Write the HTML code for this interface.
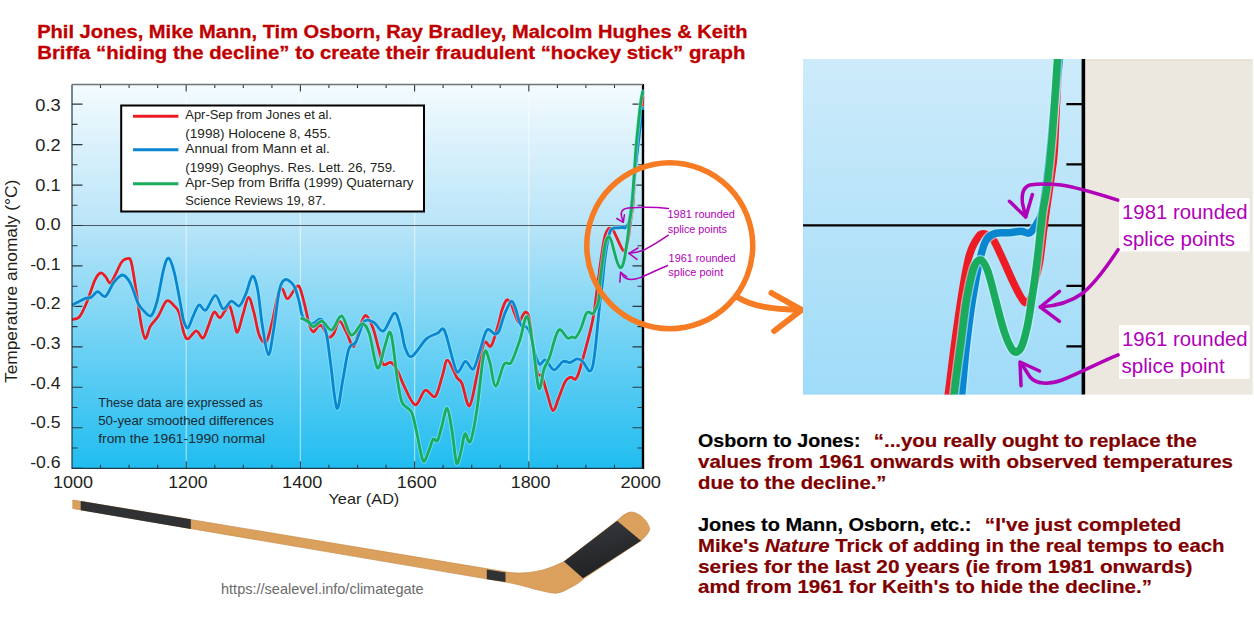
<!DOCTYPE html>
<html><head><meta charset="utf-8"><title>Hide the decline</title>
<style>html,body{margin:0;padding:0;background:#fff;width:1254px;height:627px;overflow:hidden}svg{display:block}</style>
</head><body>
<svg width="1254" height="627" viewBox="0 0 1254 627">
<text x="37.2" y="38.4" font-family="Liberation Sans" font-weight="bold" font-size="17.6" fill="#c00000" stroke="#c00000" stroke-width="0.3" textLength="710.3" lengthAdjust="spacingAndGlyphs">Phil Jones, Mike Mann, Tim Osborn, Ray Bradley, Malcolm Hughes &amp; Keith</text>
<text x="37.2" y="59" font-family="Liberation Sans" font-weight="bold" font-size="17.6" fill="#c00000" stroke="#c00000" stroke-width="0.3" textLength="708.3" lengthAdjust="spacingAndGlyphs">Briffa “hiding the decline” to create their fraudulent “hockey stick” graph</text>
<defs><linearGradient id="mg" x1="0" y1="0" x2="0" y2="1"><stop offset="0" stop-color="#f4fbfe"/><stop offset="0.37" stop-color="#b8e4f8"/><stop offset="1" stop-color="#20bdf0"/></linearGradient><linearGradient id="ig" x1="0" y1="0" x2="0" y2="1"><stop offset="0" stop-color="#cdebfa"/><stop offset="1" stop-color="#9fdbf8"/></linearGradient><linearGradient id="tg" x1="0" y1="0" x2="0.35" y2="1"><stop offset="0" stop-color="#3a3c3f"/><stop offset="0.5" stop-color="#2c2e31"/><stop offset="1" stop-color="#1f2123"/></linearGradient><clipPath id="pc"><rect x="72.0" y="84.5" width="575.0" height="383.8"/></clipPath><clipPath id="ic"><rect x="803" y="59" width="280" height="335.6"/></clipPath></defs>
<rect x="72.0" y="84.5" width="571.0" height="383.8" fill="url(#mg)"/>
<line x1="186.2" y1="84.5" x2="186.2" y2="468.3" stroke="#ffffff" stroke-opacity="0.5" stroke-width="1.3"/>
<line x1="300.4" y1="84.5" x2="300.4" y2="468.3" stroke="#ffffff" stroke-opacity="0.5" stroke-width="1.3"/>
<line x1="414.6" y1="84.5" x2="414.6" y2="468.3" stroke="#ffffff" stroke-opacity="0.5" stroke-width="1.3"/>
<line x1="528.8" y1="84.5" x2="528.8" y2="468.3" stroke="#ffffff" stroke-opacity="0.5" stroke-width="1.3"/>
<line x1="72.0" y1="225.5" x2="643.0" y2="225.5" stroke="#4a5a60" stroke-width="1.1"/>
<path d="M72.0,468.2h10.5 M643.0,468.2h-10.5 M72.0,448.0h5.5 M643.0,448.0h-5.5 M72.0,427.8h10.5 M643.0,427.8h-10.5 M72.0,407.5h5.5 M643.0,407.5h-5.5 M72.0,387.3h10.5 M643.0,387.3h-10.5 M72.0,367.1h5.5 M643.0,367.1h-5.5 M72.0,346.9h10.5 M643.0,346.9h-10.5 M72.0,326.6h5.5 M643.0,326.6h-5.5 M72.0,306.4h10.5 M643.0,306.4h-10.5 M72.0,286.2h5.5 M643.0,286.2h-5.5 M72.0,265.9h10.5 M643.0,265.9h-10.5 M72.0,245.7h5.5 M643.0,245.7h-5.5 M72.0,225.5h10.5 M643.0,225.5h-10.5 M72.0,205.3h5.5 M643.0,205.3h-5.5 M72.0,185.1h10.5 M643.0,185.1h-10.5 M72.0,164.8h5.5 M643.0,164.8h-5.5 M72.0,144.6h10.5 M643.0,144.6h-10.5 M72.0,124.4h5.5 M643.0,124.4h-5.5 M72.0,104.1h10.5 M643.0,104.1h-10.5 M100.5,468.3v-3.5 M100.5,84.5v3.5 M129.1,468.3v-3.5 M129.1,84.5v3.5 M157.7,468.3v-3.5 M157.7,84.5v3.5 M186.2,468.3v-7 M186.2,84.5v7 M214.8,468.3v-3.5 M214.8,84.5v3.5 M243.3,468.3v-3.5 M243.3,84.5v3.5 M271.9,468.3v-3.5 M271.9,84.5v3.5 M300.4,468.3v-7 M300.4,84.5v7 M328.9,468.3v-3.5 M328.9,84.5v3.5 M357.5,468.3v-3.5 M357.5,84.5v3.5 M386.1,468.3v-3.5 M386.1,84.5v3.5 M414.6,468.3v-7 M414.6,84.5v7 M443.1,468.3v-3.5 M443.1,84.5v3.5 M471.7,468.3v-3.5 M471.7,84.5v3.5 M500.2,468.3v-3.5 M500.2,84.5v3.5 M528.8,468.3v-7 M528.8,84.5v7 M557.4,468.3v-3.5 M557.4,84.5v3.5 M585.9,468.3v-3.5 M585.9,84.5v3.5 M614.5,468.3v-3.5 M614.5,84.5v3.5" stroke="#2b3a40" stroke-width="1.1" fill="none"/>
<rect x="121.2" y="105.5" width="302.8" height="106" fill="#ffffff" stroke="#000" stroke-width="2"/>
<line x1="133" y1="116.3" x2="178.4" y2="116.3" stroke="#ed1c24" stroke-width="3"/>
<line x1="133" y1="149.8" x2="178.4" y2="149.8" stroke="#0a85d0" stroke-width="3"/>
<line x1="133" y1="183.8" x2="178.4" y2="183.8" stroke="#1aab5c" stroke-width="3"/>
<text x="185.3" y="119.4" font-family="Liberation Sans" font-size="13" fill="#231f20" lengthAdjust="spacingAndGlyphs" textLength="146.7">Apr-Sep from Jones et al.</text>
<text x="185.3" y="138.0" font-family="Liberation Sans" font-size="13" fill="#231f20" lengthAdjust="spacingAndGlyphs" textLength="145.4">(1998) Holocene 8, 455.</text>
<text x="185.3" y="153.2" font-family="Liberation Sans" font-size="13" fill="#231f20" lengthAdjust="spacingAndGlyphs" textLength="144.6">Annual from Mann et al.</text>
<text x="185.3" y="171.7" font-family="Liberation Sans" font-size="13" fill="#231f20" lengthAdjust="spacingAndGlyphs" textLength="210.4">(1999) Geophys. Res. Lett. 26, 759.</text>
<text x="185.3" y="186.6" font-family="Liberation Sans" font-size="13" fill="#231f20" lengthAdjust="spacingAndGlyphs" textLength="228.3">Apr-Sep from Briffa (1999) Quaternary</text>
<text x="185.3" y="205.0" font-family="Liberation Sans" font-size="13" fill="#231f20" lengthAdjust="spacingAndGlyphs" textLength="140.3">Science Reviews 19, 87.</text>
<text x="98.2" y="407.2" font-family="Liberation Sans" font-size="13" fill="#1b2a33" lengthAdjust="spacingAndGlyphs" textLength="164.3">These data are expressed as</text>
<text x="98.2" y="425.3" font-family="Liberation Sans" font-size="13" fill="#1b2a33" lengthAdjust="spacingAndGlyphs" textLength="175.7">50-year smoothed differences</text>
<text x="98.2" y="443.2" font-family="Liberation Sans" font-size="13" fill="#1b2a33" lengthAdjust="spacingAndGlyphs" textLength="166.9">from the 1961-1990 normal</text>
<path d="M643.0,83.9 V468.90000000000003" stroke="#000" stroke-width="2.2" fill="none"/>
<g clip-path="url(#pc)" fill="none" stroke-linecap="round" stroke-linejoin="round" stroke-width="2.8"><path d="M72.0,319.5 C73.3,319.0 77.1,319.7 79.6,316.6 C82.1,313.6 84.7,307.3 87.2,301.2 C89.8,295.1 92.7,284.9 94.9,280.2 C97.1,275.5 98.8,273.5 100.6,272.9 C102.3,272.3 103.8,274.7 105.4,276.4 C107.0,278.1 108.5,283.6 110.2,283.1 C112.0,282.6 114.0,277.0 115.9,273.5 C117.8,270.0 119.8,264.5 121.7,262.0 C123.6,259.5 125.8,258.6 127.4,258.6 C129.0,258.6 129.8,256.8 131.2,262.0 C132.6,267.2 134.4,279.8 136.0,289.8 C137.6,299.9 139.3,314.2 140.8,322.3 C142.3,330.4 143.6,338.0 145.2,338.6 C146.8,339.2 148.3,329.8 150.4,326.1 C152.5,322.4 155.3,320.8 158.0,316.6 C160.7,312.4 164.0,302.7 166.7,300.9 C169.4,299.1 172.2,304.0 174.3,306.0 C176.4,308.0 177.5,308.2 179.1,312.7 C180.7,317.1 182.3,328.3 183.8,332.7 C185.3,337.1 185.9,339.2 188.0,338.9 C190.1,338.6 193.8,330.9 196.3,330.8 C198.8,330.7 200.9,339.1 203.0,338.1 C205.1,337.2 206.8,329.4 208.7,325.1 C210.5,320.8 212.2,313.3 214.1,312.1 C215.9,310.9 218.1,317.9 219.8,317.8 C221.5,317.7 222.8,313.7 224.4,311.7 C226.0,309.7 227.9,304.6 229.4,305.9 C230.9,307.2 232.3,314.9 233.6,319.3 C234.9,323.7 235.8,333.2 237.4,332.3 C239.0,331.4 241.3,319.4 243.2,313.6 C245.0,307.8 246.8,297.6 248.5,297.3 C250.2,297.0 251.9,305.3 253.7,311.7 C255.5,318.1 257.3,330.6 259.4,335.6 C261.5,340.6 264.0,344.0 266.1,341.9 C268.2,339.8 269.8,331.4 271.9,323.2 C274.0,315.0 276.8,298.2 278.6,292.5 C280.4,286.8 281.1,288.2 282.6,289.2 C284.1,290.2 285.4,299.1 287.7,298.7 C290.0,298.3 294.5,288.2 296.6,286.6 C298.7,285.0 298.9,285.6 300.4,289.2 C301.9,292.8 304.0,302.4 305.5,308.3 C307.0,314.2 308.1,321.0 309.4,324.9 C310.7,328.8 311.7,331.7 313.2,331.9 C314.7,332.1 316.8,327.1 318.3,326.2 C319.8,325.2 320.4,324.4 322.1,326.2 C323.8,328.0 326.6,335.7 328.5,337.0 C330.4,338.3 331.8,336.5 333.6,333.9 C335.4,331.2 337.3,321.4 339.4,321.1 C341.5,320.8 344.0,327.9 346.4,332.2 C348.8,336.4 351.4,347.4 353.6,346.6 C355.8,345.8 357.6,332.6 359.6,327.4 C361.6,322.2 363.4,315.5 365.6,315.5 C367.8,315.5 370.6,321.8 372.8,327.4 C375.0,333.0 376.9,342.8 378.7,349.0 C380.5,355.2 381.5,362.3 383.5,364.5 C385.5,366.7 388.3,361.4 390.6,362.4 C392.9,363.3 395.1,366.3 397.3,370.2 C399.5,374.1 401.0,380.0 404.0,385.8 C407.0,391.6 411.6,404.1 415.1,404.8 C418.6,405.6 421.9,391.7 425.2,390.3 C428.5,388.9 432.3,398.9 435.2,396.5 C438.1,394.1 440.2,382.2 442.3,376.1 C444.4,370.0 445.1,360.0 447.5,360.1 C449.9,360.2 454.1,373.0 456.5,376.9 C458.9,380.8 459.9,378.8 462.0,383.6 C464.1,388.4 466.9,407.1 469.4,405.9 C471.9,404.6 474.4,386.6 476.8,376.1 C479.2,365.6 481.6,348.1 484.0,343.1 C486.4,338.1 488.7,349.1 491.1,346.0 C493.5,342.9 496.5,330.5 498.3,324.5 C500.1,318.5 500.6,314.1 502.0,310.0 C503.4,305.9 505.2,301.1 506.7,300.0 C508.1,298.9 509.5,301.7 510.7,303.6 C511.9,305.5 512.8,308.6 513.9,311.5 C515.0,314.4 516.6,318.9 517.5,320.7 C518.4,322.4 518.6,322.9 519.5,322.0 C520.4,321.1 521.6,317.2 522.7,315.5 C523.8,313.8 524.8,311.7 525.9,312.0 C527.0,312.3 528.0,312.4 529.1,317.5 C530.2,322.6 531.4,333.3 532.8,342.5 C534.2,351.7 535.8,367.1 537.3,372.7 C538.8,378.3 540.0,372.5 541.7,376.0 C543.4,379.5 545.4,388.1 547.3,393.9 C549.2,399.7 551.0,409.9 552.9,410.6 C554.8,411.4 556.5,403.2 558.5,398.4 C560.5,393.6 563.2,385.2 565.2,381.6 C567.2,378.1 569.1,377.5 570.8,377.1 C572.5,376.7 573.9,380.0 575.2,379.4 C576.5,378.8 577.1,377.7 578.6,373.3 C580.1,368.9 582.5,360.1 584.4,353.2 C586.3,346.2 588.5,338.1 590.1,331.6 C591.7,325.1 592.4,322.4 593.7,314.4 C595.0,306.4 596.7,291.9 597.8,283.8 C598.9,275.7 599.3,271.6 600.1,265.7 C600.9,259.8 601.8,253.6 602.6,248.5 C603.4,243.4 604.2,238.7 605.1,235.4 C606.0,232.2 607.3,230.2 608.2,229.0 C609.1,227.8 609.9,228.1 610.7,228.3 C611.5,228.5 612.3,229.0 613.2,230.3 C614.1,231.7 615.1,234.1 616.2,236.4 C617.3,238.8 618.7,242.1 619.8,244.4 C620.9,246.7 622.0,248.9 622.8,250.0 C623.5,251.1 623.8,251.2 624.3,251.0 C624.8,250.8 625.3,250.3 625.8,249.0 C626.3,247.7 626.7,245.1 627.2,243.0 C627.7,240.9 628.2,239.9 628.7,236.4 C629.2,232.9 629.8,226.9 630.5,222.0 C631.2,217.1 632.2,210.7 632.7,206.9 C633.2,203.1 633.1,205.2 633.5,199.0 C633.9,192.8 634.1,181.5 635.1,170.0 C636.1,158.5 638.5,142.1 639.8,130.0 C641.1,117.9 642.4,102.7 642.9,97.2" stroke="#9ff0ff" stroke-opacity="0.55" stroke-width="4.6"/><path d="M72.0,319.5 C73.3,319.0 77.1,319.7 79.6,316.6 C82.1,313.6 84.7,307.3 87.2,301.2 C89.8,295.1 92.7,284.9 94.9,280.2 C97.1,275.5 98.8,273.5 100.6,272.9 C102.3,272.3 103.8,274.7 105.4,276.4 C107.0,278.1 108.5,283.6 110.2,283.1 C112.0,282.6 114.0,277.0 115.9,273.5 C117.8,270.0 119.8,264.5 121.7,262.0 C123.6,259.5 125.8,258.6 127.4,258.6 C129.0,258.6 129.8,256.8 131.2,262.0 C132.6,267.2 134.4,279.8 136.0,289.8 C137.6,299.9 139.3,314.2 140.8,322.3 C142.3,330.4 143.6,338.0 145.2,338.6 C146.8,339.2 148.3,329.8 150.4,326.1 C152.5,322.4 155.3,320.8 158.0,316.6 C160.7,312.4 164.0,302.7 166.7,300.9 C169.4,299.1 172.2,304.0 174.3,306.0 C176.4,308.0 177.5,308.2 179.1,312.7 C180.7,317.1 182.3,328.3 183.8,332.7 C185.3,337.1 185.9,339.2 188.0,338.9 C190.1,338.6 193.8,330.9 196.3,330.8 C198.8,330.7 200.9,339.1 203.0,338.1 C205.1,337.2 206.8,329.4 208.7,325.1 C210.5,320.8 212.2,313.3 214.1,312.1 C215.9,310.9 218.1,317.9 219.8,317.8 C221.5,317.7 222.8,313.7 224.4,311.7 C226.0,309.7 227.9,304.6 229.4,305.9 C230.9,307.2 232.3,314.9 233.6,319.3 C234.9,323.7 235.8,333.2 237.4,332.3 C239.0,331.4 241.3,319.4 243.2,313.6 C245.0,307.8 246.8,297.6 248.5,297.3 C250.2,297.0 251.9,305.3 253.7,311.7 C255.5,318.1 257.3,330.6 259.4,335.6 C261.5,340.6 264.0,344.0 266.1,341.9 C268.2,339.8 269.8,331.4 271.9,323.2 C274.0,315.0 276.8,298.2 278.6,292.5 C280.4,286.8 281.1,288.2 282.6,289.2 C284.1,290.2 285.4,299.1 287.7,298.7 C290.0,298.3 294.5,288.2 296.6,286.6 C298.7,285.0 298.9,285.6 300.4,289.2 C301.9,292.8 304.0,302.4 305.5,308.3 C307.0,314.2 308.1,321.0 309.4,324.9 C310.7,328.8 311.7,331.7 313.2,331.9 C314.7,332.1 316.8,327.1 318.3,326.2 C319.8,325.2 320.4,324.4 322.1,326.2 C323.8,328.0 326.6,335.7 328.5,337.0 C330.4,338.3 331.8,336.5 333.6,333.9 C335.4,331.2 337.3,321.4 339.4,321.1 C341.5,320.8 344.0,327.9 346.4,332.2 C348.8,336.4 351.4,347.4 353.6,346.6 C355.8,345.8 357.6,332.6 359.6,327.4 C361.6,322.2 363.4,315.5 365.6,315.5 C367.8,315.5 370.6,321.8 372.8,327.4 C375.0,333.0 376.9,342.8 378.7,349.0 C380.5,355.2 381.5,362.3 383.5,364.5 C385.5,366.7 388.3,361.4 390.6,362.4 C392.9,363.3 395.1,366.3 397.3,370.2 C399.5,374.1 401.0,380.0 404.0,385.8 C407.0,391.6 411.6,404.1 415.1,404.8 C418.6,405.6 421.9,391.7 425.2,390.3 C428.5,388.9 432.3,398.9 435.2,396.5 C438.1,394.1 440.2,382.2 442.3,376.1 C444.4,370.0 445.1,360.0 447.5,360.1 C449.9,360.2 454.1,373.0 456.5,376.9 C458.9,380.8 459.9,378.8 462.0,383.6 C464.1,388.4 466.9,407.1 469.4,405.9 C471.9,404.6 474.4,386.6 476.8,376.1 C479.2,365.6 481.6,348.1 484.0,343.1 C486.4,338.1 488.7,349.1 491.1,346.0 C493.5,342.9 496.5,330.5 498.3,324.5 C500.1,318.5 500.6,314.1 502.0,310.0 C503.4,305.9 505.2,301.1 506.7,300.0 C508.1,298.9 509.5,301.7 510.7,303.6 C511.9,305.5 512.8,308.6 513.9,311.5 C515.0,314.4 516.6,318.9 517.5,320.7 C518.4,322.4 518.6,322.9 519.5,322.0 C520.4,321.1 521.6,317.2 522.7,315.5 C523.8,313.8 524.8,311.7 525.9,312.0 C527.0,312.3 528.0,312.4 529.1,317.5 C530.2,322.6 531.4,333.3 532.8,342.5 C534.2,351.7 535.8,367.1 537.3,372.7 C538.8,378.3 540.0,372.5 541.7,376.0 C543.4,379.5 545.4,388.1 547.3,393.9 C549.2,399.7 551.0,409.9 552.9,410.6 C554.8,411.4 556.5,403.2 558.5,398.4 C560.5,393.6 563.2,385.2 565.2,381.6 C567.2,378.1 569.1,377.5 570.8,377.1 C572.5,376.7 573.9,380.0 575.2,379.4 C576.5,378.8 577.1,377.7 578.6,373.3 C580.1,368.9 582.5,360.1 584.4,353.2 C586.3,346.2 588.5,338.1 590.1,331.6 C591.7,325.1 592.4,322.4 593.7,314.4 C595.0,306.4 596.7,291.9 597.8,283.8 C598.9,275.7 599.3,271.6 600.1,265.7 C600.9,259.8 601.8,253.6 602.6,248.5 C603.4,243.4 604.2,238.7 605.1,235.4 C606.0,232.2 607.3,230.2 608.2,229.0 C609.1,227.8 609.9,228.1 610.7,228.3 C611.5,228.5 612.3,229.0 613.2,230.3 C614.1,231.7 615.1,234.1 616.2,236.4 C617.3,238.8 618.7,242.1 619.8,244.4 C620.9,246.7 622.0,248.9 622.8,250.0 C623.5,251.1 623.8,251.2 624.3,251.0 C624.8,250.8 625.3,250.3 625.8,249.0 C626.3,247.7 626.7,245.1 627.2,243.0 C627.7,240.9 628.2,239.9 628.7,236.4 C629.2,232.9 629.8,226.9 630.5,222.0 C631.2,217.1 632.2,210.7 632.7,206.9 C633.2,203.1 633.1,205.2 633.5,199.0 C633.9,192.8 634.1,181.5 635.1,170.0 C636.1,158.5 638.5,142.1 639.8,130.0 C641.1,117.9 642.4,102.7 642.9,97.2" stroke="#ed1c24"/><path d="M72.0,305.1 C73.0,304.6 75.5,303.3 77.7,302.2 C79.9,301.1 83.1,299.2 85.3,298.4 C87.5,297.6 88.9,298.5 91.0,297.4 C93.1,296.3 95.4,291.8 97.8,291.7 C100.2,291.6 102.7,298.1 105.4,296.5 C108.1,294.9 111.1,285.7 114.0,282.1 C116.9,278.5 119.9,274.8 122.6,275.0 C125.3,275.2 127.7,278.4 130.3,283.1 C132.9,287.8 135.6,298.4 138.0,303.2 C140.4,308.0 142.4,309.7 144.6,311.8 C146.8,313.9 149.2,317.4 151.3,315.6 C153.4,313.8 155.0,309.0 157.1,301.2 C159.2,293.4 161.9,275.9 163.8,268.7 C165.7,261.5 166.8,257.6 168.6,258.2 C170.3,258.8 172.2,264.4 174.3,272.5 C176.4,280.6 179.4,298.9 181.0,307.0 C182.6,315.1 182.6,317.7 183.8,321.2 C185.0,324.7 186.4,328.8 188.0,327.9 C189.6,326.9 191.6,319.3 193.4,315.5 C195.2,311.7 197.0,305.9 199.1,305.0 C201.2,304.1 203.1,311.7 205.8,310.1 C208.5,308.5 212.5,295.6 215.4,295.4 C218.3,295.2 220.4,307.9 223.1,308.8 C225.8,309.8 228.6,301.6 231.3,301.1 C234.0,300.6 236.9,307.2 239.3,305.9 C241.8,304.6 243.8,298.4 246.0,293.5 C248.2,288.6 250.4,277.1 252.3,276.3 C254.2,275.5 255.8,280.6 257.5,288.7 C259.2,296.8 260.5,314.1 262.3,325.1 C264.1,336.1 266.5,354.1 268.4,354.7 C270.3,355.3 271.9,339.7 273.8,328.9 C275.7,318.1 277.6,297.9 279.5,289.7 C281.4,281.5 283.1,280.8 285.1,279.6 C287.1,278.5 289.8,281.3 291.5,282.8 C293.2,284.3 294.0,285.3 295.3,288.5 C296.6,291.7 297.9,297.1 299.2,301.9 C300.5,306.7 300.9,313.7 303.0,317.3 C305.1,320.9 309.1,323.3 311.9,323.6 C314.7,323.9 317.7,319.4 319.6,319.2 C321.5,319.0 322.1,319.1 323.4,322.4 C324.7,325.7 326.1,331.8 327.3,339.0 C328.6,346.2 329.3,354.1 330.9,365.7 C332.5,377.2 334.9,405.9 336.9,408.3 C338.9,410.7 340.8,389.9 342.8,380.0 C344.8,370.1 346.6,355.4 348.8,349.0 C351.0,342.6 353.4,346.4 356.0,341.8 C358.6,337.2 361.4,324.6 364.4,321.4 C367.4,318.2 370.8,321.0 374.0,322.6 C377.2,324.2 380.1,332.6 383.5,331.0 C386.9,329.4 391.4,313.8 394.3,313.1 C397.2,312.4 398.8,321.3 400.6,327.0 C402.4,332.7 403.1,342.5 405.0,347.4 C406.9,352.3 408.2,357.8 411.8,356.4 C415.4,355.0 422.0,342.8 426.3,338.9 C430.6,335.0 434.5,334.8 437.5,333.3 C440.5,331.8 441.8,326.1 444.2,330.0 C446.6,333.9 449.8,349.7 452.0,356.8 C454.2,363.9 455.4,371.6 457.6,372.4 C459.8,373.1 462.8,361.9 465.4,361.3 C468.0,360.8 470.8,370.7 473.2,369.1 C475.6,367.5 477.3,358.2 479.6,351.7 C481.9,345.2 484.3,333.1 486.8,330.2 C489.3,327.2 492.8,333.8 494.8,334.0 C496.8,334.2 497.5,333.8 498.8,331.5 C500.1,329.2 501.4,323.5 502.6,320.0 C503.8,316.5 504.5,313.8 506.0,310.7 C507.5,307.6 509.9,301.6 511.5,301.2 C513.1,300.8 514.2,304.8 515.5,308.3 C516.8,311.8 518.3,318.9 519.5,322.0 C520.7,325.1 521.6,326.3 522.7,327.1 C523.8,327.9 524.7,325.8 525.9,326.7 C527.1,327.6 528.4,327.8 529.9,332.3 C531.4,336.8 533.4,348.4 535.0,353.7 C536.6,359.0 537.8,363.3 539.5,364.4 C541.2,365.4 543.1,359.1 545.5,360.0 C547.9,360.9 551.1,369.6 554.0,369.8 C556.9,370.1 560.3,362.7 563.0,361.5 C565.7,360.3 567.6,362.9 570.0,362.5 C572.4,362.1 575.1,359.0 577.2,358.9 C579.4,358.8 580.9,359.8 582.9,361.8 C584.9,363.8 587.7,370.6 589.4,371.1 C591.1,371.6 591.9,369.4 593.0,364.7 C594.1,360.0 595.1,350.3 595.9,343.1 C596.7,335.9 597.3,328.8 598.0,321.6 C598.7,314.4 599.4,306.7 600.2,300.0 C601.0,293.3 602.0,287.0 602.6,281.3 C603.2,275.6 603.5,270.8 604.1,265.7 C604.7,260.6 605.3,255.4 606.1,250.5 C606.9,245.6 607.9,239.8 608.7,236.4 C609.5,233.0 609.9,231.7 610.7,230.3 C611.5,228.9 612.4,228.4 613.7,228.0 C615.0,227.6 616.9,227.9 618.3,227.8 C619.7,227.7 621.1,227.3 622.3,227.3 C623.5,227.3 624.4,228.3 625.3,227.8 C626.2,227.3 627.2,225.5 627.9,224.2 C628.6,222.9 628.8,223.4 629.4,220.2 C630.0,217.0 630.7,211.7 631.5,205.0 C632.3,198.3 633.1,188.3 634.0,180.0 C634.9,171.7 635.8,164.1 636.8,155.4 C637.8,146.7 639.0,135.8 640.0,128.0 C641.0,120.2 642.2,111.8 642.6,108.5" stroke="#9ff0ff" stroke-opacity="0.55" stroke-width="4.6"/><path d="M72.0,305.1 C73.0,304.6 75.5,303.3 77.7,302.2 C79.9,301.1 83.1,299.2 85.3,298.4 C87.5,297.6 88.9,298.5 91.0,297.4 C93.1,296.3 95.4,291.8 97.8,291.7 C100.2,291.6 102.7,298.1 105.4,296.5 C108.1,294.9 111.1,285.7 114.0,282.1 C116.9,278.5 119.9,274.8 122.6,275.0 C125.3,275.2 127.7,278.4 130.3,283.1 C132.9,287.8 135.6,298.4 138.0,303.2 C140.4,308.0 142.4,309.7 144.6,311.8 C146.8,313.9 149.2,317.4 151.3,315.6 C153.4,313.8 155.0,309.0 157.1,301.2 C159.2,293.4 161.9,275.9 163.8,268.7 C165.7,261.5 166.8,257.6 168.6,258.2 C170.3,258.8 172.2,264.4 174.3,272.5 C176.4,280.6 179.4,298.9 181.0,307.0 C182.6,315.1 182.6,317.7 183.8,321.2 C185.0,324.7 186.4,328.8 188.0,327.9 C189.6,326.9 191.6,319.3 193.4,315.5 C195.2,311.7 197.0,305.9 199.1,305.0 C201.2,304.1 203.1,311.7 205.8,310.1 C208.5,308.5 212.5,295.6 215.4,295.4 C218.3,295.2 220.4,307.9 223.1,308.8 C225.8,309.8 228.6,301.6 231.3,301.1 C234.0,300.6 236.9,307.2 239.3,305.9 C241.8,304.6 243.8,298.4 246.0,293.5 C248.2,288.6 250.4,277.1 252.3,276.3 C254.2,275.5 255.8,280.6 257.5,288.7 C259.2,296.8 260.5,314.1 262.3,325.1 C264.1,336.1 266.5,354.1 268.4,354.7 C270.3,355.3 271.9,339.7 273.8,328.9 C275.7,318.1 277.6,297.9 279.5,289.7 C281.4,281.5 283.1,280.8 285.1,279.6 C287.1,278.5 289.8,281.3 291.5,282.8 C293.2,284.3 294.0,285.3 295.3,288.5 C296.6,291.7 297.9,297.1 299.2,301.9 C300.5,306.7 300.9,313.7 303.0,317.3 C305.1,320.9 309.1,323.3 311.9,323.6 C314.7,323.9 317.7,319.4 319.6,319.2 C321.5,319.0 322.1,319.1 323.4,322.4 C324.7,325.7 326.1,331.8 327.3,339.0 C328.6,346.2 329.3,354.1 330.9,365.7 C332.5,377.2 334.9,405.9 336.9,408.3 C338.9,410.7 340.8,389.9 342.8,380.0 C344.8,370.1 346.6,355.4 348.8,349.0 C351.0,342.6 353.4,346.4 356.0,341.8 C358.6,337.2 361.4,324.6 364.4,321.4 C367.4,318.2 370.8,321.0 374.0,322.6 C377.2,324.2 380.1,332.6 383.5,331.0 C386.9,329.4 391.4,313.8 394.3,313.1 C397.2,312.4 398.8,321.3 400.6,327.0 C402.4,332.7 403.1,342.5 405.0,347.4 C406.9,352.3 408.2,357.8 411.8,356.4 C415.4,355.0 422.0,342.8 426.3,338.9 C430.6,335.0 434.5,334.8 437.5,333.3 C440.5,331.8 441.8,326.1 444.2,330.0 C446.6,333.9 449.8,349.7 452.0,356.8 C454.2,363.9 455.4,371.6 457.6,372.4 C459.8,373.1 462.8,361.9 465.4,361.3 C468.0,360.8 470.8,370.7 473.2,369.1 C475.6,367.5 477.3,358.2 479.6,351.7 C481.9,345.2 484.3,333.1 486.8,330.2 C489.3,327.2 492.8,333.8 494.8,334.0 C496.8,334.2 497.5,333.8 498.8,331.5 C500.1,329.2 501.4,323.5 502.6,320.0 C503.8,316.5 504.5,313.8 506.0,310.7 C507.5,307.6 509.9,301.6 511.5,301.2 C513.1,300.8 514.2,304.8 515.5,308.3 C516.8,311.8 518.3,318.9 519.5,322.0 C520.7,325.1 521.6,326.3 522.7,327.1 C523.8,327.9 524.7,325.8 525.9,326.7 C527.1,327.6 528.4,327.8 529.9,332.3 C531.4,336.8 533.4,348.4 535.0,353.7 C536.6,359.0 537.8,363.3 539.5,364.4 C541.2,365.4 543.1,359.1 545.5,360.0 C547.9,360.9 551.1,369.6 554.0,369.8 C556.9,370.1 560.3,362.7 563.0,361.5 C565.7,360.3 567.6,362.9 570.0,362.5 C572.4,362.1 575.1,359.0 577.2,358.9 C579.4,358.8 580.9,359.8 582.9,361.8 C584.9,363.8 587.7,370.6 589.4,371.1 C591.1,371.6 591.9,369.4 593.0,364.7 C594.1,360.0 595.1,350.3 595.9,343.1 C596.7,335.9 597.3,328.8 598.0,321.6 C598.7,314.4 599.4,306.7 600.2,300.0 C601.0,293.3 602.0,287.0 602.6,281.3 C603.2,275.6 603.5,270.8 604.1,265.7 C604.7,260.6 605.3,255.4 606.1,250.5 C606.9,245.6 607.9,239.8 608.7,236.4 C609.5,233.0 609.9,231.7 610.7,230.3 C611.5,228.9 612.4,228.4 613.7,228.0 C615.0,227.6 616.9,227.9 618.3,227.8 C619.7,227.7 621.1,227.3 622.3,227.3 C623.5,227.3 624.4,228.3 625.3,227.8 C626.2,227.3 627.2,225.5 627.9,224.2 C628.6,222.9 628.8,223.4 629.4,220.2 C630.0,217.0 630.7,211.7 631.5,205.0 C632.3,198.3 633.1,188.3 634.0,180.0 C634.9,171.7 635.8,164.1 636.8,155.4 C637.8,146.7 639.0,135.8 640.0,128.0 C641.0,120.2 642.2,111.8 642.6,108.5" stroke="#0a85d0"/><path d="M301.7,318.5 C302.8,319.0 306.3,320.0 308.2,321.4 C310.1,322.8 310.9,326.9 313.2,326.8 C315.5,326.8 319.0,320.6 322.1,321.1 C325.2,321.6 328.4,330.9 331.7,330.0 C335.0,329.1 338.4,315.0 341.7,315.9 C344.9,316.8 347.8,333.8 351.2,335.1 C354.6,336.4 359.0,324.1 362.0,323.8 C365.0,323.5 366.6,326.0 369.2,333.4 C371.8,340.8 374.9,366.1 377.5,368.1 C380.1,370.1 383.0,351.6 385.0,345.6 C387.0,339.6 388.2,332.6 389.5,332.2 C390.8,331.8 391.5,335.6 392.8,343.4 C394.1,351.2 395.8,369.4 397.3,379.1 C398.8,388.8 400.2,396.9 401.7,401.5 C403.2,406.1 404.5,405.1 406.2,407.0 C407.9,408.9 410.1,408.7 411.8,412.6 C413.5,416.5 414.4,422.5 416.3,430.5 C418.2,438.5 421.0,457.1 423.0,460.6 C425.0,464.1 426.8,455.2 428.5,451.7 C430.2,448.2 431.5,441.3 433.0,439.4 C434.5,437.5 436.0,442.7 437.5,440.5 C439.0,438.3 440.3,431.4 441.9,426.0 C443.5,420.6 445.4,407.4 447.1,408.2 C448.8,408.9 450.4,421.4 452.0,430.5 C453.6,439.6 455.0,459.4 456.5,462.9 C458.0,466.4 459.5,456.5 460.9,451.7 C462.3,446.9 463.3,435.5 464.9,433.8 C466.5,432.1 468.3,445.6 470.3,441.7 C472.3,437.8 474.5,425.3 476.8,410.6 C479.1,395.9 481.9,361.8 484.0,353.7 C486.1,345.6 487.8,356.4 489.7,361.8 C491.6,367.2 493.0,385.8 495.4,386.2 C497.8,386.6 501.5,368.1 504.1,364.1 C506.7,360.1 508.6,366.4 511.2,362.4 C513.8,358.4 517.2,347.9 519.8,340.2 C522.4,332.5 524.8,315.6 527.0,316.4 C529.2,317.2 530.8,332.8 532.8,344.8 C534.8,356.8 536.9,384.2 538.8,388.3 C540.7,392.4 542.2,374.5 544.0,369.3 C545.8,364.1 547.2,363.5 549.6,357.0 C552.0,350.5 555.5,333.3 558.5,330.2 C561.5,327.1 565.2,337.0 567.4,338.1 C569.6,339.2 570.5,337.0 571.9,336.9 C573.3,336.8 574.2,338.8 575.7,337.4 C577.2,336.0 579.1,332.5 580.8,328.7 C582.5,324.9 584.5,317.1 585.8,314.4 C587.1,311.6 587.5,312.3 588.7,312.2 C589.9,312.1 591.7,314.4 593.0,313.6 C594.3,312.8 595.6,309.5 596.6,307.2 C597.6,304.9 598.1,304.3 598.7,300.0 C599.3,295.7 599.5,287.0 600.1,281.3 C600.7,275.6 601.4,270.8 602.1,265.7 C602.8,260.6 603.4,254.9 604.1,250.5 C604.9,246.1 605.8,241.7 606.6,239.4 C607.4,237.1 608.2,236.7 609.0,236.9 C609.8,237.1 610.4,238.3 611.2,240.4 C612.0,242.5 612.8,246.1 613.7,249.5 C614.6,252.9 615.7,257.7 616.7,260.6 C617.7,263.6 618.9,266.3 619.8,267.2 C620.7,268.1 621.5,267.5 622.3,266.2 C623.0,264.9 623.6,262.7 624.3,259.6 C625.0,256.5 625.7,251.5 626.3,247.5 C626.9,243.5 627.4,239.6 627.9,235.4 C628.4,231.2 628.9,226.2 629.4,222.2 C629.9,218.2 630.6,215.8 631.1,211.6 C631.6,207.4 632.0,204.1 632.6,197.2 C633.2,190.3 633.9,178.4 634.5,170.0 C635.1,161.6 635.3,155.0 636.0,147.0 C636.7,139.0 637.7,129.7 638.5,121.9 C639.3,114.1 640.3,105.1 641.0,100.1 C641.7,95.0 642.4,93.0 642.7,91.6" stroke="#9ff0ff" stroke-opacity="0.55" stroke-width="4.6"/><path d="M301.7,318.5 C302.8,319.0 306.3,320.0 308.2,321.4 C310.1,322.8 310.9,326.9 313.2,326.8 C315.5,326.8 319.0,320.6 322.1,321.1 C325.2,321.6 328.4,330.9 331.7,330.0 C335.0,329.1 338.4,315.0 341.7,315.9 C344.9,316.8 347.8,333.8 351.2,335.1 C354.6,336.4 359.0,324.1 362.0,323.8 C365.0,323.5 366.6,326.0 369.2,333.4 C371.8,340.8 374.9,366.1 377.5,368.1 C380.1,370.1 383.0,351.6 385.0,345.6 C387.0,339.6 388.2,332.6 389.5,332.2 C390.8,331.8 391.5,335.6 392.8,343.4 C394.1,351.2 395.8,369.4 397.3,379.1 C398.8,388.8 400.2,396.9 401.7,401.5 C403.2,406.1 404.5,405.1 406.2,407.0 C407.9,408.9 410.1,408.7 411.8,412.6 C413.5,416.5 414.4,422.5 416.3,430.5 C418.2,438.5 421.0,457.1 423.0,460.6 C425.0,464.1 426.8,455.2 428.5,451.7 C430.2,448.2 431.5,441.3 433.0,439.4 C434.5,437.5 436.0,442.7 437.5,440.5 C439.0,438.3 440.3,431.4 441.9,426.0 C443.5,420.6 445.4,407.4 447.1,408.2 C448.8,408.9 450.4,421.4 452.0,430.5 C453.6,439.6 455.0,459.4 456.5,462.9 C458.0,466.4 459.5,456.5 460.9,451.7 C462.3,446.9 463.3,435.5 464.9,433.8 C466.5,432.1 468.3,445.6 470.3,441.7 C472.3,437.8 474.5,425.3 476.8,410.6 C479.1,395.9 481.9,361.8 484.0,353.7 C486.1,345.6 487.8,356.4 489.7,361.8 C491.6,367.2 493.0,385.8 495.4,386.2 C497.8,386.6 501.5,368.1 504.1,364.1 C506.7,360.1 508.6,366.4 511.2,362.4 C513.8,358.4 517.2,347.9 519.8,340.2 C522.4,332.5 524.8,315.6 527.0,316.4 C529.2,317.2 530.8,332.8 532.8,344.8 C534.8,356.8 536.9,384.2 538.8,388.3 C540.7,392.4 542.2,374.5 544.0,369.3 C545.8,364.1 547.2,363.5 549.6,357.0 C552.0,350.5 555.5,333.3 558.5,330.2 C561.5,327.1 565.2,337.0 567.4,338.1 C569.6,339.2 570.5,337.0 571.9,336.9 C573.3,336.8 574.2,338.8 575.7,337.4 C577.2,336.0 579.1,332.5 580.8,328.7 C582.5,324.9 584.5,317.1 585.8,314.4 C587.1,311.6 587.5,312.3 588.7,312.2 C589.9,312.1 591.7,314.4 593.0,313.6 C594.3,312.8 595.6,309.5 596.6,307.2 C597.6,304.9 598.1,304.3 598.7,300.0 C599.3,295.7 599.5,287.0 600.1,281.3 C600.7,275.6 601.4,270.8 602.1,265.7 C602.8,260.6 603.4,254.9 604.1,250.5 C604.9,246.1 605.8,241.7 606.6,239.4 C607.4,237.1 608.2,236.7 609.0,236.9 C609.8,237.1 610.4,238.3 611.2,240.4 C612.0,242.5 612.8,246.1 613.7,249.5 C614.6,252.9 615.7,257.7 616.7,260.6 C617.7,263.6 618.9,266.3 619.8,267.2 C620.7,268.1 621.5,267.5 622.3,266.2 C623.0,264.9 623.6,262.7 624.3,259.6 C625.0,256.5 625.7,251.5 626.3,247.5 C626.9,243.5 627.4,239.6 627.9,235.4 C628.4,231.2 628.9,226.2 629.4,222.2 C629.9,218.2 630.6,215.8 631.1,211.6 C631.6,207.4 632.0,204.1 632.6,197.2 C633.2,190.3 633.9,178.4 634.5,170.0 C635.1,161.6 635.3,155.0 636.0,147.0 C636.7,139.0 637.7,129.7 638.5,121.9 C639.3,114.1 640.3,105.1 641.0,100.1 C641.7,95.0 642.4,93.0 642.7,91.6" stroke="#1aab5c"/></g>
<path d="M643.0,110 V468.90000000000003" stroke="#000" stroke-width="2.2" fill="none"/>
<path d="M72.0,84.5 V468.3 H643.0" stroke="#1d3a48" stroke-width="1.2" fill="none"/>
<path d="M72.0,84.5 H643.0" stroke="#6d7477" stroke-width="1.3" fill="none"/>
<text x="30.2" y="467.7" font-family="Liberation Sans" font-size="16" fill="#231f20" lengthAdjust="spacingAndGlyphs" textLength="30.4">-0.6</text>
<text x="30.2" y="428.1" font-family="Liberation Sans" font-size="16" fill="#231f20" lengthAdjust="spacingAndGlyphs" textLength="30.4">-0.5</text>
<text x="30.2" y="388.5" font-family="Liberation Sans" font-size="16" fill="#231f20" lengthAdjust="spacingAndGlyphs" textLength="30.4">-0.4</text>
<text x="30.2" y="348.9" font-family="Liberation Sans" font-size="16" fill="#231f20" lengthAdjust="spacingAndGlyphs" textLength="30.4">-0.3</text>
<text x="30.2" y="309.4" font-family="Liberation Sans" font-size="16" fill="#231f20" lengthAdjust="spacingAndGlyphs" textLength="30.4">-0.2</text>
<text x="30.2" y="269.8" font-family="Liberation Sans" font-size="16" fill="#231f20" lengthAdjust="spacingAndGlyphs" textLength="30.4">-0.1</text>
<text x="35.3" y="230.2" font-family="Liberation Sans" font-size="16" fill="#231f20" lengthAdjust="spacingAndGlyphs" textLength="25.4">0.0</text>
<text x="35.3" y="190.6" font-family="Liberation Sans" font-size="16" fill="#231f20" lengthAdjust="spacingAndGlyphs" textLength="25.4">0.1</text>
<text x="35.3" y="151.0" font-family="Liberation Sans" font-size="16" fill="#231f20" lengthAdjust="spacingAndGlyphs" textLength="25.4">0.2</text>
<text x="35.3" y="111.4" font-family="Liberation Sans" font-size="16" fill="#231f20" lengthAdjust="spacingAndGlyphs" textLength="25.4">0.3</text>
<text x="53.0" y="488.2" font-family="Liberation Sans" font-size="16" fill="#231f20" lengthAdjust="spacingAndGlyphs" textLength="40.1">1000</text>
<text x="168.3" y="488.2" font-family="Liberation Sans" font-size="16" fill="#231f20" lengthAdjust="spacingAndGlyphs" textLength="39.2">1200</text>
<text x="282.1" y="488.2" font-family="Liberation Sans" font-size="16" fill="#231f20" lengthAdjust="spacingAndGlyphs" textLength="40.2">1400</text>
<text x="396.8" y="488.2" font-family="Liberation Sans" font-size="16" fill="#231f20" lengthAdjust="spacingAndGlyphs" textLength="39.8">1600</text>
<text x="510.7" y="488.2" font-family="Liberation Sans" font-size="16" fill="#231f20" lengthAdjust="spacingAndGlyphs" textLength="39.8">1800</text>
<text x="620.4" y="488.2" font-family="Liberation Sans" font-size="16" fill="#231f20" lengthAdjust="spacingAndGlyphs" textLength="40.6">2000</text>
<text x="328.5" y="503.9" font-family="Liberation Sans" font-size="14.5" fill="#231f20" textLength="70.8" lengthAdjust="spacingAndGlyphs">Year (AD)</text>
<text transform="translate(17.3,383) rotate(-90)" x="0" y="0" font-family="Liberation Sans" font-size="16" fill="#231f20" textLength="203.3" lengthAdjust="spacingAndGlyphs">Temperature anomaly (°C)</text>
<text x="667.5" y="218.0" font-family="Liberation Sans" font-size="10.3" fill="#b000b8" lengthAdjust="spacingAndGlyphs" textLength="67.4">1981 rounded</text>
<text x="667.8" y="232.6" font-family="Liberation Sans" font-size="10.3" fill="#b000b8" lengthAdjust="spacingAndGlyphs" textLength="59.2">splice points</text>
<text x="668.6" y="261.7" font-family="Liberation Sans" font-size="10.3" fill="#b000b8" lengthAdjust="spacingAndGlyphs" textLength="67.0">1961 rounded</text>
<text x="668.3" y="276.1" font-family="Liberation Sans" font-size="10.3" fill="#b000b8" lengthAdjust="spacingAndGlyphs" textLength="54.9">splice point</text>
<g fill="none" stroke="#b000b8" stroke-width="1.5" stroke-linecap="round" stroke-linejoin="round"><path d="M668.3,208.6 C655,207 640,207.2 628.2,207.9 C622,208.6 620.6,212 621.4,216.2 L623.3,222.3"/><path d="M616.8,218.5 L623.3,222.3 L624.4,214.7"/><path d="M668.3,235.2 C660,241 652,246 643.3,250.3 C638,252.3 633,253 628.9,253.3"/><path d="M638,248 L628.9,253.3 L637,259.4"/><path d="M667.6,265.5 C658,269.5 648,274.5 640.3,277.6 C633,280.2 627,280 623.6,276.8 L620.6,272.3"/><path d="M626.7,276.8 L620.6,272.3 L619.8,282.1"/></g>
<circle cx="669.75" cy="245.75" r="83" fill="none" stroke="#f77b22" stroke-width="5.5"/>
<path d="M737,297 C752,306 770,309.5 801,309.8" fill="none" stroke="#f77b22" stroke-width="6" stroke-linecap="round"/>
<path d="M771.5,293 L801.5,309.8 L774.2,331" fill="none" stroke="#f77b22" stroke-width="6" stroke-linecap="round" stroke-linejoin="round"/>
<rect x="803" y="59" width="281" height="335.6" fill="url(#ig)"/>
<rect x="1085.5" y="59" width="167.3" height="335.6" fill="#ede8df"/>
<line x1="803" y1="225.3" x2="1083" y2="225.3" stroke="#000" stroke-width="2.2"/>
<g clip-path="url(#ic)"><g transform="translate(-846,-450.6) scale(3)" fill="none" stroke-linecap="round" stroke-linejoin="round" stroke-width="2.5"><path d="M72.0,319.5 C73.3,319.0 77.1,319.7 79.6,316.6 C82.1,313.6 84.7,307.3 87.2,301.2 C89.8,295.1 92.7,284.9 94.9,280.2 C97.1,275.5 98.8,273.5 100.6,272.9 C102.3,272.3 103.8,274.7 105.4,276.4 C107.0,278.1 108.5,283.6 110.2,283.1 C112.0,282.6 114.0,277.0 115.9,273.5 C117.8,270.0 119.8,264.5 121.7,262.0 C123.6,259.5 125.8,258.6 127.4,258.6 C129.0,258.6 129.8,256.8 131.2,262.0 C132.6,267.2 134.4,279.8 136.0,289.8 C137.6,299.9 139.3,314.2 140.8,322.3 C142.3,330.4 143.6,338.0 145.2,338.6 C146.8,339.2 148.3,329.8 150.4,326.1 C152.5,322.4 155.3,320.8 158.0,316.6 C160.7,312.4 164.0,302.7 166.7,300.9 C169.4,299.1 172.2,304.0 174.3,306.0 C176.4,308.0 177.5,308.2 179.1,312.7 C180.7,317.1 182.3,328.3 183.8,332.7 C185.3,337.1 185.9,339.2 188.0,338.9 C190.1,338.6 193.8,330.9 196.3,330.8 C198.8,330.7 200.9,339.1 203.0,338.1 C205.1,337.2 206.8,329.4 208.7,325.1 C210.5,320.8 212.2,313.3 214.1,312.1 C215.9,310.9 218.1,317.9 219.8,317.8 C221.5,317.7 222.8,313.7 224.4,311.7 C226.0,309.7 227.9,304.6 229.4,305.9 C230.9,307.2 232.3,314.9 233.6,319.3 C234.9,323.7 235.8,333.2 237.4,332.3 C239.0,331.4 241.3,319.4 243.2,313.6 C245.0,307.8 246.8,297.6 248.5,297.3 C250.2,297.0 251.9,305.3 253.7,311.7 C255.5,318.1 257.3,330.6 259.4,335.6 C261.5,340.6 264.0,344.0 266.1,341.9 C268.2,339.8 269.8,331.4 271.9,323.2 C274.0,315.0 276.8,298.2 278.6,292.5 C280.4,286.8 281.1,288.2 282.6,289.2 C284.1,290.2 285.4,299.1 287.7,298.7 C290.0,298.3 294.5,288.2 296.6,286.6 C298.7,285.0 298.9,285.6 300.4,289.2 C301.9,292.8 304.0,302.4 305.5,308.3 C307.0,314.2 308.1,321.0 309.4,324.9 C310.7,328.8 311.7,331.7 313.2,331.9 C314.7,332.1 316.8,327.1 318.3,326.2 C319.8,325.2 320.4,324.4 322.1,326.2 C323.8,328.0 326.6,335.7 328.5,337.0 C330.4,338.3 331.8,336.5 333.6,333.9 C335.4,331.2 337.3,321.4 339.4,321.1 C341.5,320.8 344.0,327.9 346.4,332.2 C348.8,336.4 351.4,347.4 353.6,346.6 C355.8,345.8 357.6,332.6 359.6,327.4 C361.6,322.2 363.4,315.5 365.6,315.5 C367.8,315.5 370.6,321.8 372.8,327.4 C375.0,333.0 376.9,342.8 378.7,349.0 C380.5,355.2 381.5,362.3 383.5,364.5 C385.5,366.7 388.3,361.4 390.6,362.4 C392.9,363.3 395.1,366.3 397.3,370.2 C399.5,374.1 401.0,380.0 404.0,385.8 C407.0,391.6 411.6,404.1 415.1,404.8 C418.6,405.6 421.9,391.7 425.2,390.3 C428.5,388.9 432.3,398.9 435.2,396.5 C438.1,394.1 440.2,382.2 442.3,376.1 C444.4,370.0 445.1,360.0 447.5,360.1 C449.9,360.2 454.1,373.0 456.5,376.9 C458.9,380.8 459.9,378.8 462.0,383.6 C464.1,388.4 466.9,407.1 469.4,405.9 C471.9,404.6 474.4,386.6 476.8,376.1 C479.2,365.6 481.6,348.1 484.0,343.1 C486.4,338.1 488.7,349.1 491.1,346.0 C493.5,342.9 496.5,330.5 498.3,324.5 C500.1,318.5 500.6,314.1 502.0,310.0 C503.4,305.9 505.2,301.1 506.7,300.0 C508.1,298.9 509.5,301.7 510.7,303.6 C511.9,305.5 512.8,308.6 513.9,311.5 C515.0,314.4 516.6,318.9 517.5,320.7 C518.4,322.4 518.6,322.9 519.5,322.0 C520.4,321.1 521.6,317.2 522.7,315.5 C523.8,313.8 524.8,311.7 525.9,312.0 C527.0,312.3 528.0,312.4 529.1,317.5 C530.2,322.6 531.4,333.3 532.8,342.5 C534.2,351.7 535.8,367.1 537.3,372.7 C538.8,378.3 540.0,372.5 541.7,376.0 C543.4,379.5 545.4,388.1 547.3,393.9 C549.2,399.7 551.0,409.9 552.9,410.6 C554.8,411.4 556.5,403.2 558.5,398.4 C560.5,393.6 563.2,385.2 565.2,381.6 C567.2,378.1 569.1,377.5 570.8,377.1 C572.5,376.7 573.9,380.0 575.2,379.4 C576.5,378.8 577.1,377.7 578.6,373.3 C580.1,368.9 582.5,360.1 584.4,353.2 C586.3,346.2 588.5,338.1 590.1,331.6 C591.7,325.1 592.4,322.4 593.7,314.4 C595.0,306.4 596.7,291.9 597.8,283.8 C598.9,275.7 599.3,271.6 600.1,265.7 C600.9,259.8 601.8,253.6 602.6,248.5 C603.4,243.4 604.2,238.7 605.1,235.4 C606.0,232.2 607.3,230.2 608.2,229.0 C609.1,227.8 609.9,228.1 610.7,228.3 C611.5,228.5 612.3,229.0 613.2,230.3 C614.1,231.7 615.1,234.1 616.2,236.4 C617.3,238.8 618.7,242.1 619.8,244.4 C620.9,246.7 622.0,248.9 622.8,250.0 C623.5,251.1 623.8,251.2 624.3,251.0 C624.8,250.8 625.3,250.3 625.8,249.0 C626.3,247.7 626.7,245.1 627.2,243.0 C627.7,240.9 628.2,239.9 628.7,236.4 C629.2,232.9 629.8,226.9 630.5,222.0 C631.2,217.1 632.2,210.7 632.7,206.9 C633.2,203.1 633.1,205.2 633.5,199.0 C633.9,192.8 634.1,181.5 635.1,170.0 C636.1,158.5 638.5,142.1 639.8,130.0 C641.1,117.9 642.4,102.7 642.9,97.2" stroke="#ed1c24"/><path d="M72.0,305.1 C73.0,304.6 75.5,303.3 77.7,302.2 C79.9,301.1 83.1,299.2 85.3,298.4 C87.5,297.6 88.9,298.5 91.0,297.4 C93.1,296.3 95.4,291.8 97.8,291.7 C100.2,291.6 102.7,298.1 105.4,296.5 C108.1,294.9 111.1,285.7 114.0,282.1 C116.9,278.5 119.9,274.8 122.6,275.0 C125.3,275.2 127.7,278.4 130.3,283.1 C132.9,287.8 135.6,298.4 138.0,303.2 C140.4,308.0 142.4,309.7 144.6,311.8 C146.8,313.9 149.2,317.4 151.3,315.6 C153.4,313.8 155.0,309.0 157.1,301.2 C159.2,293.4 161.9,275.9 163.8,268.7 C165.7,261.5 166.8,257.6 168.6,258.2 C170.3,258.8 172.2,264.4 174.3,272.5 C176.4,280.6 179.4,298.9 181.0,307.0 C182.6,315.1 182.6,317.7 183.8,321.2 C185.0,324.7 186.4,328.8 188.0,327.9 C189.6,326.9 191.6,319.3 193.4,315.5 C195.2,311.7 197.0,305.9 199.1,305.0 C201.2,304.1 203.1,311.7 205.8,310.1 C208.5,308.5 212.5,295.6 215.4,295.4 C218.3,295.2 220.4,307.9 223.1,308.8 C225.8,309.8 228.6,301.6 231.3,301.1 C234.0,300.6 236.9,307.2 239.3,305.9 C241.8,304.6 243.8,298.4 246.0,293.5 C248.2,288.6 250.4,277.1 252.3,276.3 C254.2,275.5 255.8,280.6 257.5,288.7 C259.2,296.8 260.5,314.1 262.3,325.1 C264.1,336.1 266.5,354.1 268.4,354.7 C270.3,355.3 271.9,339.7 273.8,328.9 C275.7,318.1 277.6,297.9 279.5,289.7 C281.4,281.5 283.1,280.8 285.1,279.6 C287.1,278.5 289.8,281.3 291.5,282.8 C293.2,284.3 294.0,285.3 295.3,288.5 C296.6,291.7 297.9,297.1 299.2,301.9 C300.5,306.7 300.9,313.7 303.0,317.3 C305.1,320.9 309.1,323.3 311.9,323.6 C314.7,323.9 317.7,319.4 319.6,319.2 C321.5,319.0 322.1,319.1 323.4,322.4 C324.7,325.7 326.1,331.8 327.3,339.0 C328.6,346.2 329.3,354.1 330.9,365.7 C332.5,377.2 334.9,405.9 336.9,408.3 C338.9,410.7 340.8,389.9 342.8,380.0 C344.8,370.1 346.6,355.4 348.8,349.0 C351.0,342.6 353.4,346.4 356.0,341.8 C358.6,337.2 361.4,324.6 364.4,321.4 C367.4,318.2 370.8,321.0 374.0,322.6 C377.2,324.2 380.1,332.6 383.5,331.0 C386.9,329.4 391.4,313.8 394.3,313.1 C397.2,312.4 398.8,321.3 400.6,327.0 C402.4,332.7 403.1,342.5 405.0,347.4 C406.9,352.3 408.2,357.8 411.8,356.4 C415.4,355.0 422.0,342.8 426.3,338.9 C430.6,335.0 434.5,334.8 437.5,333.3 C440.5,331.8 441.8,326.1 444.2,330.0 C446.6,333.9 449.8,349.7 452.0,356.8 C454.2,363.9 455.4,371.6 457.6,372.4 C459.8,373.1 462.8,361.9 465.4,361.3 C468.0,360.8 470.8,370.7 473.2,369.1 C475.6,367.5 477.3,358.2 479.6,351.7 C481.9,345.2 484.3,333.1 486.8,330.2 C489.3,327.2 492.8,333.8 494.8,334.0 C496.8,334.2 497.5,333.8 498.8,331.5 C500.1,329.2 501.4,323.5 502.6,320.0 C503.8,316.5 504.5,313.8 506.0,310.7 C507.5,307.6 509.9,301.6 511.5,301.2 C513.1,300.8 514.2,304.8 515.5,308.3 C516.8,311.8 518.3,318.9 519.5,322.0 C520.7,325.1 521.6,326.3 522.7,327.1 C523.8,327.9 524.7,325.8 525.9,326.7 C527.1,327.6 528.4,327.8 529.9,332.3 C531.4,336.8 533.4,348.4 535.0,353.7 C536.6,359.0 537.8,363.3 539.5,364.4 C541.2,365.4 543.1,359.1 545.5,360.0 C547.9,360.9 551.1,369.6 554.0,369.8 C556.9,370.1 560.3,362.7 563.0,361.5 C565.7,360.3 567.6,362.9 570.0,362.5 C572.4,362.1 575.1,359.0 577.2,358.9 C579.4,358.8 580.9,359.8 582.9,361.8 C584.9,363.8 587.7,370.6 589.4,371.1 C591.1,371.6 591.9,369.4 593.0,364.7 C594.1,360.0 595.1,350.3 595.9,343.1 C596.7,335.9 597.3,328.8 598.0,321.6 C598.7,314.4 599.4,306.7 600.2,300.0 C601.0,293.3 602.0,287.0 602.6,281.3 C603.2,275.6 603.5,270.8 604.1,265.7 C604.7,260.6 605.3,255.4 606.1,250.5 C606.9,245.6 607.9,239.8 608.7,236.4 C609.5,233.0 609.9,231.7 610.7,230.3 C611.5,228.9 612.4,228.4 613.7,228.0 C615.0,227.6 616.9,227.9 618.3,227.8 C619.7,227.7 621.1,227.3 622.3,227.3 C623.5,227.3 624.4,228.3 625.3,227.8 C626.2,227.3 627.2,225.5 627.9,224.2 C628.6,222.9 628.8,223.4 629.4,220.2 C630.0,217.0 630.7,211.7 631.5,205.0 C632.3,198.3 633.1,188.3 634.0,180.0 C634.9,171.7 635.8,164.1 636.8,155.4 C637.8,146.7 639.0,135.8 640.0,128.0 C641.0,120.2 642.2,111.8 642.6,108.5" stroke="#c8f4ff" stroke-opacity="0.6" stroke-width="3.4"/><path d="M72.0,305.1 C73.0,304.6 75.5,303.3 77.7,302.2 C79.9,301.1 83.1,299.2 85.3,298.4 C87.5,297.6 88.9,298.5 91.0,297.4 C93.1,296.3 95.4,291.8 97.8,291.7 C100.2,291.6 102.7,298.1 105.4,296.5 C108.1,294.9 111.1,285.7 114.0,282.1 C116.9,278.5 119.9,274.8 122.6,275.0 C125.3,275.2 127.7,278.4 130.3,283.1 C132.9,287.8 135.6,298.4 138.0,303.2 C140.4,308.0 142.4,309.7 144.6,311.8 C146.8,313.9 149.2,317.4 151.3,315.6 C153.4,313.8 155.0,309.0 157.1,301.2 C159.2,293.4 161.9,275.9 163.8,268.7 C165.7,261.5 166.8,257.6 168.6,258.2 C170.3,258.8 172.2,264.4 174.3,272.5 C176.4,280.6 179.4,298.9 181.0,307.0 C182.6,315.1 182.6,317.7 183.8,321.2 C185.0,324.7 186.4,328.8 188.0,327.9 C189.6,326.9 191.6,319.3 193.4,315.5 C195.2,311.7 197.0,305.9 199.1,305.0 C201.2,304.1 203.1,311.7 205.8,310.1 C208.5,308.5 212.5,295.6 215.4,295.4 C218.3,295.2 220.4,307.9 223.1,308.8 C225.8,309.8 228.6,301.6 231.3,301.1 C234.0,300.6 236.9,307.2 239.3,305.9 C241.8,304.6 243.8,298.4 246.0,293.5 C248.2,288.6 250.4,277.1 252.3,276.3 C254.2,275.5 255.8,280.6 257.5,288.7 C259.2,296.8 260.5,314.1 262.3,325.1 C264.1,336.1 266.5,354.1 268.4,354.7 C270.3,355.3 271.9,339.7 273.8,328.9 C275.7,318.1 277.6,297.9 279.5,289.7 C281.4,281.5 283.1,280.8 285.1,279.6 C287.1,278.5 289.8,281.3 291.5,282.8 C293.2,284.3 294.0,285.3 295.3,288.5 C296.6,291.7 297.9,297.1 299.2,301.9 C300.5,306.7 300.9,313.7 303.0,317.3 C305.1,320.9 309.1,323.3 311.9,323.6 C314.7,323.9 317.7,319.4 319.6,319.2 C321.5,319.0 322.1,319.1 323.4,322.4 C324.7,325.7 326.1,331.8 327.3,339.0 C328.6,346.2 329.3,354.1 330.9,365.7 C332.5,377.2 334.9,405.9 336.9,408.3 C338.9,410.7 340.8,389.9 342.8,380.0 C344.8,370.1 346.6,355.4 348.8,349.0 C351.0,342.6 353.4,346.4 356.0,341.8 C358.6,337.2 361.4,324.6 364.4,321.4 C367.4,318.2 370.8,321.0 374.0,322.6 C377.2,324.2 380.1,332.6 383.5,331.0 C386.9,329.4 391.4,313.8 394.3,313.1 C397.2,312.4 398.8,321.3 400.6,327.0 C402.4,332.7 403.1,342.5 405.0,347.4 C406.9,352.3 408.2,357.8 411.8,356.4 C415.4,355.0 422.0,342.8 426.3,338.9 C430.6,335.0 434.5,334.8 437.5,333.3 C440.5,331.8 441.8,326.1 444.2,330.0 C446.6,333.9 449.8,349.7 452.0,356.8 C454.2,363.9 455.4,371.6 457.6,372.4 C459.8,373.1 462.8,361.9 465.4,361.3 C468.0,360.8 470.8,370.7 473.2,369.1 C475.6,367.5 477.3,358.2 479.6,351.7 C481.9,345.2 484.3,333.1 486.8,330.2 C489.3,327.2 492.8,333.8 494.8,334.0 C496.8,334.2 497.5,333.8 498.8,331.5 C500.1,329.2 501.4,323.5 502.6,320.0 C503.8,316.5 504.5,313.8 506.0,310.7 C507.5,307.6 509.9,301.6 511.5,301.2 C513.1,300.8 514.2,304.8 515.5,308.3 C516.8,311.8 518.3,318.9 519.5,322.0 C520.7,325.1 521.6,326.3 522.7,327.1 C523.8,327.9 524.7,325.8 525.9,326.7 C527.1,327.6 528.4,327.8 529.9,332.3 C531.4,336.8 533.4,348.4 535.0,353.7 C536.6,359.0 537.8,363.3 539.5,364.4 C541.2,365.4 543.1,359.1 545.5,360.0 C547.9,360.9 551.1,369.6 554.0,369.8 C556.9,370.1 560.3,362.7 563.0,361.5 C565.7,360.3 567.6,362.9 570.0,362.5 C572.4,362.1 575.1,359.0 577.2,358.9 C579.4,358.8 580.9,359.8 582.9,361.8 C584.9,363.8 587.7,370.6 589.4,371.1 C591.1,371.6 591.9,369.4 593.0,364.7 C594.1,360.0 595.1,350.3 595.9,343.1 C596.7,335.9 597.3,328.8 598.0,321.6 C598.7,314.4 599.4,306.7 600.2,300.0 C601.0,293.3 602.0,287.0 602.6,281.3 C603.2,275.6 603.5,270.8 604.1,265.7 C604.7,260.6 605.3,255.4 606.1,250.5 C606.9,245.6 607.9,239.8 608.7,236.4 C609.5,233.0 609.9,231.7 610.7,230.3 C611.5,228.9 612.4,228.4 613.7,228.0 C615.0,227.6 616.9,227.9 618.3,227.8 C619.7,227.7 621.1,227.3 622.3,227.3 C623.5,227.3 624.4,228.3 625.3,227.8 C626.2,227.3 627.2,225.5 627.9,224.2 C628.6,222.9 628.8,223.4 629.4,220.2 C630.0,217.0 630.7,211.7 631.5,205.0 C632.3,198.3 633.1,188.3 634.0,180.0 C634.9,171.7 635.8,164.1 636.8,155.4 C637.8,146.7 639.0,135.8 640.0,128.0 C641.0,120.2 642.2,111.8 642.6,108.5" stroke="#0a85d0"/><path d="M301.7,318.5 C302.8,319.0 306.3,320.0 308.2,321.4 C310.1,322.8 310.9,326.9 313.2,326.8 C315.5,326.8 319.0,320.6 322.1,321.1 C325.2,321.6 328.4,330.9 331.7,330.0 C335.0,329.1 338.4,315.0 341.7,315.9 C344.9,316.8 347.8,333.8 351.2,335.1 C354.6,336.4 359.0,324.1 362.0,323.8 C365.0,323.5 366.6,326.0 369.2,333.4 C371.8,340.8 374.9,366.1 377.5,368.1 C380.1,370.1 383.0,351.6 385.0,345.6 C387.0,339.6 388.2,332.6 389.5,332.2 C390.8,331.8 391.5,335.6 392.8,343.4 C394.1,351.2 395.8,369.4 397.3,379.1 C398.8,388.8 400.2,396.9 401.7,401.5 C403.2,406.1 404.5,405.1 406.2,407.0 C407.9,408.9 410.1,408.7 411.8,412.6 C413.5,416.5 414.4,422.5 416.3,430.5 C418.2,438.5 421.0,457.1 423.0,460.6 C425.0,464.1 426.8,455.2 428.5,451.7 C430.2,448.2 431.5,441.3 433.0,439.4 C434.5,437.5 436.0,442.7 437.5,440.5 C439.0,438.3 440.3,431.4 441.9,426.0 C443.5,420.6 445.4,407.4 447.1,408.2 C448.8,408.9 450.4,421.4 452.0,430.5 C453.6,439.6 455.0,459.4 456.5,462.9 C458.0,466.4 459.5,456.5 460.9,451.7 C462.3,446.9 463.3,435.5 464.9,433.8 C466.5,432.1 468.3,445.6 470.3,441.7 C472.3,437.8 474.5,425.3 476.8,410.6 C479.1,395.9 481.9,361.8 484.0,353.7 C486.1,345.6 487.8,356.4 489.7,361.8 C491.6,367.2 493.0,385.8 495.4,386.2 C497.8,386.6 501.5,368.1 504.1,364.1 C506.7,360.1 508.6,366.4 511.2,362.4 C513.8,358.4 517.2,347.9 519.8,340.2 C522.4,332.5 524.8,315.6 527.0,316.4 C529.2,317.2 530.8,332.8 532.8,344.8 C534.8,356.8 536.9,384.2 538.8,388.3 C540.7,392.4 542.2,374.5 544.0,369.3 C545.8,364.1 547.2,363.5 549.6,357.0 C552.0,350.5 555.5,333.3 558.5,330.2 C561.5,327.1 565.2,337.0 567.4,338.1 C569.6,339.2 570.5,337.0 571.9,336.9 C573.3,336.8 574.2,338.8 575.7,337.4 C577.2,336.0 579.1,332.5 580.8,328.7 C582.5,324.9 584.5,317.1 585.8,314.4 C587.1,311.6 587.5,312.3 588.7,312.2 C589.9,312.1 591.7,314.4 593.0,313.6 C594.3,312.8 595.6,309.5 596.6,307.2 C597.6,304.9 598.1,304.3 598.7,300.0 C599.3,295.7 599.5,287.0 600.1,281.3 C600.7,275.6 601.4,270.8 602.1,265.7 C602.8,260.6 603.4,254.9 604.1,250.5 C604.9,246.1 605.8,241.7 606.6,239.4 C607.4,237.1 608.2,236.7 609.0,236.9 C609.8,237.1 610.4,238.3 611.2,240.4 C612.0,242.5 612.8,246.1 613.7,249.5 C614.6,252.9 615.7,257.7 616.7,260.6 C617.7,263.6 618.9,266.3 619.8,267.2 C620.7,268.1 621.5,267.5 622.3,266.2 C623.0,264.9 623.6,262.7 624.3,259.6 C625.0,256.5 625.7,251.5 626.3,247.5 C626.9,243.5 627.4,239.6 627.9,235.4 C628.4,231.2 628.9,226.2 629.4,222.2 C629.9,218.2 630.6,215.8 631.1,211.6 C631.6,207.4 632.0,204.1 632.6,197.2 C633.2,190.3 633.9,178.4 634.5,170.0 C635.1,161.6 635.3,155.0 636.0,147.0 C636.7,139.0 637.7,129.7 638.5,121.9 C639.3,114.1 640.3,105.1 641.0,100.1 C641.7,95.0 642.4,93.0 642.7,91.6" stroke="#c8f4ff" stroke-opacity="0.6" stroke-width="3.4"/><path d="M301.7,318.5 C302.8,319.0 306.3,320.0 308.2,321.4 C310.1,322.8 310.9,326.9 313.2,326.8 C315.5,326.8 319.0,320.6 322.1,321.1 C325.2,321.6 328.4,330.9 331.7,330.0 C335.0,329.1 338.4,315.0 341.7,315.9 C344.9,316.8 347.8,333.8 351.2,335.1 C354.6,336.4 359.0,324.1 362.0,323.8 C365.0,323.5 366.6,326.0 369.2,333.4 C371.8,340.8 374.9,366.1 377.5,368.1 C380.1,370.1 383.0,351.6 385.0,345.6 C387.0,339.6 388.2,332.6 389.5,332.2 C390.8,331.8 391.5,335.6 392.8,343.4 C394.1,351.2 395.8,369.4 397.3,379.1 C398.8,388.8 400.2,396.9 401.7,401.5 C403.2,406.1 404.5,405.1 406.2,407.0 C407.9,408.9 410.1,408.7 411.8,412.6 C413.5,416.5 414.4,422.5 416.3,430.5 C418.2,438.5 421.0,457.1 423.0,460.6 C425.0,464.1 426.8,455.2 428.5,451.7 C430.2,448.2 431.5,441.3 433.0,439.4 C434.5,437.5 436.0,442.7 437.5,440.5 C439.0,438.3 440.3,431.4 441.9,426.0 C443.5,420.6 445.4,407.4 447.1,408.2 C448.8,408.9 450.4,421.4 452.0,430.5 C453.6,439.6 455.0,459.4 456.5,462.9 C458.0,466.4 459.5,456.5 460.9,451.7 C462.3,446.9 463.3,435.5 464.9,433.8 C466.5,432.1 468.3,445.6 470.3,441.7 C472.3,437.8 474.5,425.3 476.8,410.6 C479.1,395.9 481.9,361.8 484.0,353.7 C486.1,345.6 487.8,356.4 489.7,361.8 C491.6,367.2 493.0,385.8 495.4,386.2 C497.8,386.6 501.5,368.1 504.1,364.1 C506.7,360.1 508.6,366.4 511.2,362.4 C513.8,358.4 517.2,347.9 519.8,340.2 C522.4,332.5 524.8,315.6 527.0,316.4 C529.2,317.2 530.8,332.8 532.8,344.8 C534.8,356.8 536.9,384.2 538.8,388.3 C540.7,392.4 542.2,374.5 544.0,369.3 C545.8,364.1 547.2,363.5 549.6,357.0 C552.0,350.5 555.5,333.3 558.5,330.2 C561.5,327.1 565.2,337.0 567.4,338.1 C569.6,339.2 570.5,337.0 571.9,336.9 C573.3,336.8 574.2,338.8 575.7,337.4 C577.2,336.0 579.1,332.5 580.8,328.7 C582.5,324.9 584.5,317.1 585.8,314.4 C587.1,311.6 587.5,312.3 588.7,312.2 C589.9,312.1 591.7,314.4 593.0,313.6 C594.3,312.8 595.6,309.5 596.6,307.2 C597.6,304.9 598.1,304.3 598.7,300.0 C599.3,295.7 599.5,287.0 600.1,281.3 C600.7,275.6 601.4,270.8 602.1,265.7 C602.8,260.6 603.4,254.9 604.1,250.5 C604.9,246.1 605.8,241.7 606.6,239.4 C607.4,237.1 608.2,236.7 609.0,236.9 C609.8,237.1 610.4,238.3 611.2,240.4 C612.0,242.5 612.8,246.1 613.7,249.5 C614.6,252.9 615.7,257.7 616.7,260.6 C617.7,263.6 618.9,266.3 619.8,267.2 C620.7,268.1 621.5,267.5 622.3,266.2 C623.0,264.9 623.6,262.7 624.3,259.6 C625.0,256.5 625.7,251.5 626.3,247.5 C626.9,243.5 627.4,239.6 627.9,235.4 C628.4,231.2 628.9,226.2 629.4,222.2 C629.9,218.2 630.6,215.8 631.1,211.6 C631.6,207.4 632.0,204.1 632.6,197.2 C633.2,190.3 633.9,178.4 634.5,170.0 C635.1,161.6 635.3,155.0 636.0,147.0 C636.7,139.0 637.7,129.7 638.5,121.9 C639.3,114.1 640.3,105.1 641.0,100.1 C641.7,95.0 642.4,93.0 642.7,91.6" stroke="#1aab5c"/></g></g>
<path d="M1083.4,104.2h-17 M1083.4,164.4h-17 M1083.4,285.8h-17 M1083.4,346.4h-17" stroke="#000" stroke-width="2.2"/>
<line x1="1083.4" y1="59" x2="1083.4" y2="394.6" stroke="#000" stroke-width="3.6"/>
<line x1="1086" y1="60.5" x2="1250" y2="60.5" stroke="#e5dccb" stroke-width="1"/>
<rect x="1119" y="198" width="130.5" height="53.4" fill="#fff"/>
<rect x="1119" y="325.1" width="130.5" height="53.8" fill="#fff"/>
<text x="1122.0" y="218.7" font-family="Liberation Sans" font-size="19.6" fill="#b000b8" lengthAdjust="spacingAndGlyphs" textLength="125.6">1981 rounded</text>
<text x="1122.8" y="245.5" font-family="Liberation Sans" font-size="19.6" fill="#b000b8" lengthAdjust="spacingAndGlyphs" textLength="112.2">splice points</text>
<text x="1122.0" y="345.9" font-family="Liberation Sans" font-size="19.6" fill="#b000b8" lengthAdjust="spacingAndGlyphs" textLength="125.6">1961 rounded</text>
<text x="1121.5" y="372.5" font-family="Liberation Sans" font-size="19.6" fill="#b000b8" lengthAdjust="spacingAndGlyphs" textLength="103.2">splice point</text>
<g fill="none" stroke="#b000b8" stroke-width="3.5" stroke-linecap="round" stroke-linejoin="round"><path d="M1117.8,200.2 C1095,193 1075,187 1061.4,185.1 C1050,183.8 1039,183.2 1030,185 C1023,187 1021.5,195 1022.5,203.5 L1025.7,216.9"/><path d="M1009.5,201.3 L1025.7,216.9 L1032.4,194.6"/><path d="M1118.1,249.6 C1108,265 1095,283 1083,293 C1072,301 1058,306 1040.3,307"/><path d="M1059.5,291.4 L1040.3,307 L1059.5,321.3"/><path d="M1118.1,354.8 C1100,362 1080,373 1062,380 C1048,385 1036,384 1030,377 L1021,363"/><path d="M1039.5,371 L1020,362 L1021,385.8"/></g>
<g><path d="M72.8,500 L505.5,571.8 C518,574.5 532,572.5 542.9,570 C550,568 557,565 564,561.6 L617.1,520.7 C621,517 625,513 630.6,512 C638,512 647,519 649.8,528.7 C649,533 645,537 641,540.7 L584.4,578.1 C580,582 576,585 571.6,586.9 C566,590 561,593 555.7,593.3 C549,593 541,590.5 535,589.3 C525,586.5 515,583.5 505.5,582.1 L72.8,508.5 Z" fill="#daa05c" stroke="#c88c4c" stroke-width="0.7"/><path d="M80.7,501.0 L190.8,519.3 L190.8,529.1 L80.7,510.2 Z" fill="#2f3133"/><path d="M486.8,569.4 L505.5,572.4 L505.5,582.1 L486.8,579.2 Z" fill="#2f3133"/><path d="M564,561.6 L617.1,520.7 L641,540.7 L583,578.3 Z" fill="url(#tg)"/></g>
<text x="221" y="593.8" font-family="Liberation Sans" font-size="14.5" fill="#6b6b6b" textLength="202.7" lengthAdjust="spacingAndGlyphs">https://sealevel.info/climategate</text>
<text x="698" y="447.4" font-family="Liberation Sans" font-weight="bold" font-size="18.4" stroke-width="0.2" lengthAdjust="spacingAndGlyphs" fill="#000" stroke="#000" textLength="162.5">Osborn to Jones:</text>
<text x="873.8" y="447.4" font-family="Liberation Sans" font-weight="bold" font-size="18.4" stroke-width="0.2" lengthAdjust="spacingAndGlyphs" fill="#800000" stroke="#800000" textLength="323">“...you really ought to replace the</text>
<text x="698" y="468.25" font-family="Liberation Sans" font-weight="bold" font-size="18.4" stroke-width="0.2" lengthAdjust="spacingAndGlyphs" fill="#800000" stroke="#800000" textLength="535">values from 1961 onwards with observed temperatures</text>
<text x="698" y="489.10" font-family="Liberation Sans" font-weight="bold" font-size="18.4" stroke-width="0.2" lengthAdjust="spacingAndGlyphs" fill="#800000" stroke="#800000" textLength="188.5">due to the decline.”</text>
<text x="698" y="530.80" font-family="Liberation Sans" font-weight="bold" font-size="18.4" stroke-width="0.2" lengthAdjust="spacingAndGlyphs" fill="#000" stroke="#000" textLength="273.3">Jones to Mann, Osborn, etc.:</text>
<text x="984.8" y="530.80" font-family="Liberation Sans" font-weight="bold" font-size="18.4" stroke-width="0.2" lengthAdjust="spacingAndGlyphs" fill="#800000" stroke="#800000" textLength="196.5">“I've just completed</text>
<text x="698" y="551.65" font-family="Liberation Sans" font-weight="bold" font-size="18.4" stroke-width="0.2" lengthAdjust="spacingAndGlyphs" fill="#800000" stroke="#800000" textLength="526.5">Mike's <tspan font-style="italic">Nature</tspan> Trick of adding in the real temps to each</text>
<text x="698" y="572.50" font-family="Liberation Sans" font-weight="bold" font-size="18.4" stroke-width="0.2" lengthAdjust="spacingAndGlyphs" fill="#800000" stroke="#800000" textLength="494.5">series for the last 20 years (ie from 1981 onwards)</text>
<text x="698" y="593.35" font-family="Liberation Sans" font-weight="bold" font-size="18.4" stroke-width="0.2" lengthAdjust="spacingAndGlyphs" fill="#800000" stroke="#800000" textLength="454">amd from 1961 for Keith's to hide the decline.”</text>
</svg>
</body></html>
